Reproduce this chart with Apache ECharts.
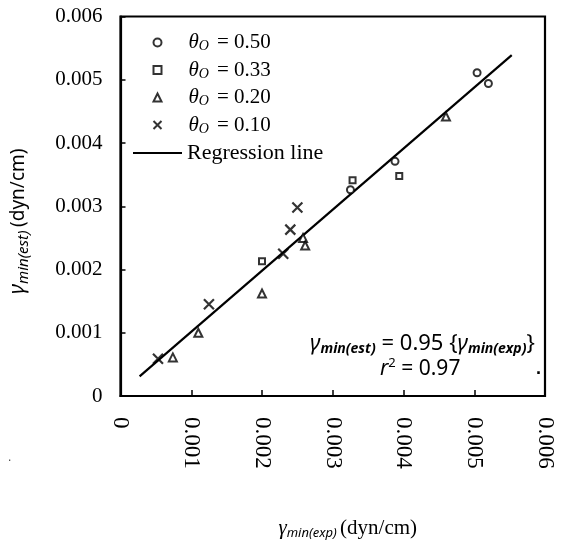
<!DOCTYPE html>
<html>
<head>
<meta charset="utf-8">
<script src="https://cdn.jsdelivr.net/npm/echarts@6/dist/echarts.min.js"></script>
<style>
  html, body { margin: 0; padding: 0; background: #fff; }
  #chart { width: 566px; height: 545px; }
</style>
</head>
<body>
<div id="chart"></div>
<script>
// theta_O values shown in the legend
const thetaValues = ['0.50', '0.33', '0.20', '0.10'];

// measured (x) vs estimated (y) minimum surface tension, dyn/cm
const circleX = [0.00325, 0.00388, 0.00504, 0.00520];
const circleY = [0.00326, 0.00371, 0.00511, 0.00494];
const squareX = [0.00200, 0.00328, 0.00394];
const squareY = [0.00213, 0.00341, 0.00348];
const triangleX = [0.00074, 0.00110, 0.00200, 0.00258, 0.00261, 0.00460];
const triangleY = [0.00061, 0.00100, 0.00162, 0.00250, 0.00238, 0.00442];
const crossX = [0.00053, 0.00125, 0.00230, 0.00240, 0.00250];
const crossY = [0.00059, 0.00145, 0.00225, 0.00263, 0.00298];

// regression line end points
const regX = [0.00027, 0.00553];
const regY = [0.00031, 0.00539];

const zip = (xs, ys) => xs.map((x, i) => [x, ys[i]]);
const thetaName = v => 'θO = ' + v;

const crossPath = 'path://M0,0L10,10M10,0L0,10';

const serif = '"Liberation Serif", "Times New Roman", serif';
const sans = '"Noto Sans", "DejaVu Sans", sans-serif';

const chart = echarts.init(document.getElementById('chart'));

const markerStyle = { color: '#fff', borderColor: '#000', borderWidth: 2 };

const option = {
  backgroundColor: '#fff',
  animation: false,
  grid: {
    left: 120, top: 16.5, width: 425, height: 387,
    show: true, borderColor: '#000', borderWidth: 2.2
  },
  legend: [
    {
      // markers
      orient: 'vertical',
      left: 151, top: 32, padding: 0,
      itemWidth: 8, itemHeight: 8, itemGap: 6,
      data: thetaValues.map(thetaName),
      formatter: name => {
        const v = name.split('= ')[1];
        return '{t|θ}{s|O}{v|= ' + v + '}';
      },
      textStyle: {
        color: '#000',
        rich: {
          t: { fontFamily: serif, fontStyle: 'italic', fontSize: 21, padding: [0, 0, 0, 22], lineHeight: 22, verticalAlign: 'middle' },
          s: { fontFamily: serif, fontStyle: 'italic', fontSize: 14, lineHeight: 22, verticalAlign: 'bottom', padding: [6, 0, 0, 0] },
          v: { fontFamily: serif, fontSize: 21, padding: [0, 0, 0, 8], lineHeight: 22, verticalAlign: 'middle' }
        }
      }
    },
    {
      // regression line
      left: 133, top: 142, padding: 0,
      itemWidth: 49, itemHeight: 2,
      data: [{ name: 'Regression line', icon: 'rect' }],
      textStyle: { color: '#000', fontFamily: serif, fontSize: 22 }
    }
  ],
  xAxis: {
    type: 'value',
    min: 0, max: 0.006, interval: 0.001,
    splitLine: { show: false },
    axisLine: { show: true, onZero: false, lineStyle: { color: '#000', width: 2.2 } },
    axisTick: { show: true, inside: true, length: 6, lineStyle: { color: '#000', width: 1.5 } },
    axisLabel: {
      rotate: -90, margin: 21, color: '#000',
      fontFamily: serif, fontSize: 23,
      formatter: v => (v === 0 ? '0' : v.toFixed(3))
    },
    name: '{g|γ}{s|min(exp)} {n|(dyn/cm)}',
    nameLocation: 'middle',
    nameGap: 120,
    nameTextStyle: {
      color: '#000',
      padding: [0, 0, 0, 30],
      rich: {
        g: { fontFamily: serif, fontStyle: 'italic', fontSize: 21, lineHeight: 24, verticalAlign: 'middle' },
        s: { fontFamily: sans, fontStyle: 'italic', fontSize: 13, lineHeight: 24, verticalAlign: 'bottom', padding: [6, 0, 0, 0] },
        n: { fontFamily: serif, fontSize: 21, lineHeight: 24, verticalAlign: 'middle' }
      }
    }
  },
  yAxis: {
    type: 'value',
    min: 0, max: 0.006, interval: 0.001,
    splitLine: { show: false },
    axisLine: { show: true, onZero: false, lineStyle: { color: '#000', width: 2.2 } },
    axisTick: { show: true, inside: true, length: 5, lineStyle: { color: '#000', width: 1.5 } },
    axisLabel: {
      margin: 18, color: '#000',
      fontFamily: serif, fontSize: 21,
      formatter: v => (v === 0 ? '0' : v.toFixed(3))
    },
    name: '{g|γ}{s|min(est)} {n|(dyn/cm)}',
    nameLocation: 'middle',
    nameRotate: 90,
    nameGap: 89,
    nameTextStyle: {
      color: '#000',
      padding: [0, 30, 0, 0],
      rich: {
        g: { fontFamily: sans, fontStyle: 'italic', fontSize: 21, lineHeight: 26, verticalAlign: 'middle' },
        s: { fontFamily: sans, fontStyle: 'italic', fontSize: 15, lineHeight: 26, verticalAlign: 'bottom', padding: [6, 0, 0, 0] },
        n: { fontFamily: sans, fontSize: 19, lineHeight: 26, verticalAlign: 'middle' }
      }
    }
  },
  graphic: [
    {
      type: 'text', left: 310, top: 333,
      style: {
        text: '{g|γ}{s|min(est)}{n| = 0.95 {}{g|γ}{s|min(exp)}}',
        fill: '#000',
        font: '22px "Noto Sans", sans-serif',
        rich: {
          g: { fontFamily: sans, fontStyle: 'italic', fontSize: 22, lineHeight: 24, verticalAlign: 'middle' },
          s: { fontFamily: sans, fontStyle: 'italic', fontWeight: 'bold', fontSize: 14, lineHeight: 24, verticalAlign: 'bottom', padding: [6, 0, 0, 0] },
          n: { fontFamily: sans, fontSize: 22, lineHeight: 24, verticalAlign: 'middle' }
        }
      }
    },
    {
      type: 'text', left: 380, top: 357,
      style: {
        text: '{r|r}{p|2}{n| = 0.97}',
        fill: '#000',
        rich: {
          r: { fontFamily: sans, fontStyle: 'italic', fontSize: 21, lineHeight: 24, verticalAlign: 'middle' },
          p: { fontFamily: sans, fontSize: 13, lineHeight: 24, verticalAlign: 'top' },
          n: { fontFamily: sans, fontSize: 21, lineHeight: 24, verticalAlign: 'middle' }
        }
      }
    },
    { type: 'text', left: 536, top: 360, style: { text: '.', fill: '#000', font: 'bold 18px sans-serif' } },
    { type: 'text', left: 95, top: 328, style: { text: '.', fill: '#444', font: '12px sans-serif' } },
    { type: 'text', left: 8, top: 452, style: { text: '.', fill: '#444', font: '12px sans-serif' } }
  ],
  series: [
    {
      name: thetaName(thetaValues[0]), type: 'scatter',
      symbol: 'circle', symbolSize: 7,
      itemStyle: markerStyle,
      data: zip(circleX, circleY), z: 3
    },
    {
      name: thetaName(thetaValues[1]), type: 'scatter',
      symbol: 'rect', symbolSize: 6,
      itemStyle: markerStyle,
      data: zip(squareX, squareY), z: 3
    },
    {
      name: thetaName(thetaValues[2]), type: 'scatter',
      symbol: 'triangle', symbolSize: 8,
      itemStyle: markerStyle,
      data: zip(triangleX, triangleY), z: 3
    },
    {
      name: thetaName(thetaValues[3]), type: 'scatter',
      symbol: crossPath, symbolSize: 10,
      itemStyle: { color: 'none', borderColor: '#000', borderWidth: 2.2 },
      data: zip(crossX, crossY), z: 3
    },
    {
      name: 'Regression line', type: 'line',
      symbol: 'none',
      lineStyle: { color: '#000', width: 2.2 },
      itemStyle: { color: '#000' },
      data: zip(regX, regY), z: 2
    }
  ]
};

chart.setOption(option);
</script>
</body>
</html>
